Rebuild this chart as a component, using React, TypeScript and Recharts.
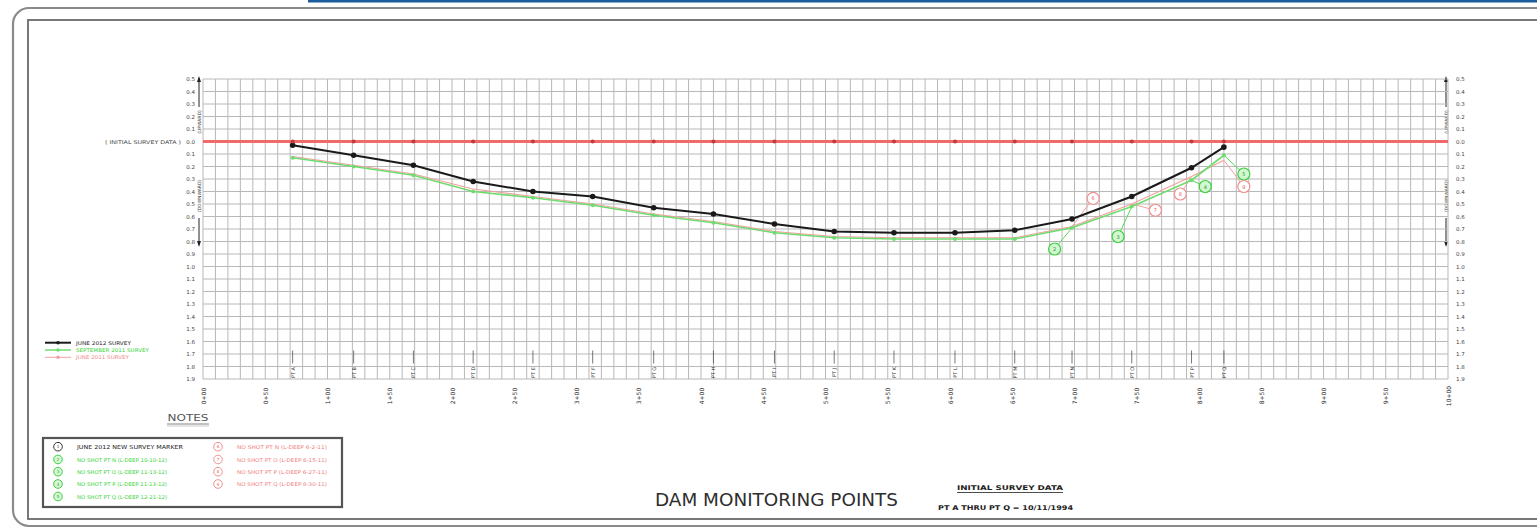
import React from 'react';
import { ComposedChart, Line, Scatter, XAxis, YAxis, CartesianGrid, ReferenceLine } from 'recharts';

// ---------- data ----------
const pointNames = ['PT A','PT B','PT C','PT D','PT E','PT F','PT G','PT H','PT I','PT J','PT K','PT L','PT M','PT N','PT O','PT P','PT Q'];
const pointStations = [72, 121, 169, 217, 265, 313, 362, 410, 459, 507, 555, 604, 652, 698, 746, 794, 820];
const initialSurvey = [0, 0, 0, 0, 0, 0, 0, 0, 0, 0, 0, 0, 0, 0, 0, 0, 0];
const june2012 = [0.03, 0.11, 0.19, 0.32, 0.40, 0.44, 0.53, 0.58, 0.66, 0.72, 0.73, 0.73, 0.71, 0.62, 0.44, 0.21, 0.045];
const sept2011 = [0.13, 0.20, 0.27, 0.40, 0.45, 0.51, 0.59, 0.65, 0.73, 0.77, 0.78, 0.78, 0.78, 0.69, 0.52, 0.31, 0.11];
const june2011 = [0.12, 0.19, 0.26, 0.38, 0.44, 0.50, 0.58, 0.64, 0.72, 0.76, 0.77, 0.77, 0.77, 0.68, 0.50, 0.28, 0.15];

const stationTicks = [0, 50, 100, 150, 200, 250, 300, 350, 400, 450, 500, 550, 600, 650, 700, 750, 800, 850, 900, 950, 1000];
const stationLabels = ['0+00','0+50','1+00','1+50','2+00','2+50','3+00','3+50','4+00','4+50','5+00','5+50','6+00','6+50','7+00','7+50','8+00','8+50','9+00','9+50','10+00'];
const yTicks = [-0.5, -0.4, -0.3, -0.2, -0.1, 0, 0.1, 0.2, 0.3, 0.4, 0.5, 0.6, 0.7, 0.8, 0.9, 1.0, 1.1, 1.2, 1.3, 1.4, 1.5, 1.6, 1.7, 1.8, 1.9];

// note markers on chart
const greenNoteIdx = [13, 14, 15, 16];
const greenNoteX = [684, 735, 805, 836];
const greenNoteY = [0.86, 0.76, 0.36, 0.26];
const greenNoteNum = ['2', '3', '4', '5'];
const pinkNoteIdx = [13, 14, 15, 16];
const pinkNoteX = [715, 765, 785, 836];
const pinkNoteY = [0.455, 0.55, 0.42, 0.36];
const pinkNoteNum = ['6', '7', '8', '9'];

// notes box texts
const blackNote = 'JUNE 2012  NEW SURVEY MARKER';
const greenNotes = ['NO SHOT PT N (L-DEEP 10-10-12)', 'NO SHOT PT O (L-DEEP 11-13-12)', 'NO SHOT PT P (L-DEEP 11-13-12)', 'NO SHOT PT Q (L-DEEP 12-21-12)'];
const pinkNotes = ['NO SHOT PT N (L-DEEP 6-2-11)', 'NO SHOT PT O (L-DEEP 6-15-11)', 'NO SHOT PT P (L-DEEP 6-27-11)', 'NO SHOT PT Q (L-DEEP 6-30-11)'];

const seriesNames = ['JUNE 2012 SURVEY', 'SEPTEMBER 2011 SURVEY', 'JUNE 2011 SURVEY'];

// ---------- derived tables ----------
const rows = pointStations.map((x, i) => ({
  x, name: pointNames[i], init: initialSurvey[i], j12: june2012[i], s11: sept2011[i], j11: june2011[i],
}));
const ptRows = pointStations.map((x, i) => ({ x, y: 1.8, name: pointNames[i] }));
const initRows = pointStations.map((x, i) => ({ x, y: initialSurvey[i] }));
const greenNotes2 = greenNoteX.map((x, i) => ({ x, y: greenNoteY[i], n: greenNoteNum[i] }));
const pinkNotes2 = pinkNoteX.map((x, i) => ({ x, y: pinkNoteY[i], n: pinkNoteNum[i] }));
const gridX: number[] = Array.from({ length: 101 }, (_, i) => i * 10);

const FONT = '"DejaVu Sans", "Liberation Sans", sans-serif';
const BLACK = '#1a1a1a';
const GREEN = '#6fdc6f';
const GREEN_TXT = '#36d436';
const PINK = '#f2a0a0';
const RED = '#f06a6a';

const LeftTick = (props: any) => {
  const { x, y, payload } = props;
  const v = payload.value as number;
  const lbl = Math.abs(v).toFixed(1);
  return (
    <g>
      {v === 0 && (
        <text x={x - 14} y={y} textAnchor="end" dominantBaseline="central" fontSize={5.2} fill="#444" fontFamily={FONT}
          textLength={76} lengthAdjust="spacingAndGlyphs">
          ( INITIAL SURVEY DATA )
        </text>
      )}
      <text x={x} y={y} textAnchor="end" dominantBaseline="central" fontSize={5.5} fill="#444" fontFamily={FONT}>{lbl}</text>
    </g>
  );
};

const RightTick = (props: any) => {
  const { x, y, payload } = props;
  const v = payload.value as number;
  return (
    <text x={x} y={y} textAnchor="start" dominantBaseline="central" fontSize={5.5} fill="#444" fontFamily={FONT}>
      {Math.abs(v).toFixed(1)}
    </text>
  );
};

const BottomTick = (props: any) => {
  const { x, y, payload } = props;
  const v = payload.value as number;
  const idx = stationTicks.indexOf(v);
  if (idx < 0) return <g />;
  const cy = y + 9;
  return (
    <text x={x} y={cy} transform={`rotate(-90 ${x} ${cy})`} textAnchor="middle" dominantBaseline="central" fontSize={6} fill="#222" fontFamily={FONT}>
      {stationLabels[idx]}
    </text>
  );
};

const PtShape = (props: any) => {
  const { cx, cy, payload } = props;
  return (
    <g>
      <line x1={cx} y1={cy - 16} x2={cx} y2={cy - 3} stroke="#555" strokeWidth={0.8} />
      <text x={cx} y={cy + 6} transform={`rotate(-90 ${cx} ${cy + 6})`} textAnchor="middle" dominantBaseline="central" fontSize={5} fill="#333" fontFamily={FONT}>
        {payload.name}
      </text>
    </g>
  );
};

const InitDot = (props: any) => {
  const { cx, cy } = props;
  return <circle cx={cx} cy={cy} r={2} fill="#c43a3a" />;
};

const GreenNote = (props: any) => {
  const { cx, cy, payload } = props;
  return (
    <g>
      <circle cx={cx} cy={cy} r={6} fill="#d2f7d2" stroke="#3fcf3f" strokeWidth={1.2} />
      <text x={cx} y={cy} textAnchor="middle" dominantBaseline="central" fontSize={5} fill="#22a022" fontFamily={FONT}>{payload.n}</text>
    </g>
  );
};

const PinkNote = (props: any) => {
  const { cx, cy, payload } = props;
  return (
    <g>
      <circle cx={cx} cy={cy} r={6} fill="#fff" stroke="#f09090" strokeWidth={1.2} />
      <text x={cx} y={cy} textAnchor="middle" dominantBaseline="central" fontSize={5} fill="#e06060" fontFamily={FONT}>{payload.n}</text>
    </g>
  );
};

const VArrowText = ({ x, y, text }: { x: number; y: number; text: string }) => (
  <text x={x} y={y} transform={`rotate(-90 ${x} ${y})`} textAnchor="middle" dominantBaseline="central" fontSize={4.5} fill="#333" fontFamily={FONT}>{text}</text>
);

const AxisDecor = ({ x }: { x: number }) => (
  <g>
    <line x1={x} y1={78} x2={x} y2={107} stroke="#222" strokeWidth={1} />
    <path d={`M${x - 2},${82} L${x},${76} L${x + 2},${82} Z`} fill="#222" />
    <VArrowText x={x + 0.5} y={122} text="(UPWARD)" />
    <VArrowText x={x + 0.5} y={196} text="(DOWNWARD)" />
    <line x1={x} y1={218} x2={x} y2={245} stroke="#222" strokeWidth={1} />
    <path d={`M${x - 2},${241} L${x},${247} L${x + 2},${241} Z`} fill="#222" />
  </g>
);

export default function App() {
  const legendRows = [
    { y: 342.7, color: BLACK, txt: BLACK, w: 55, sw: 2 },
    { y: 350, color: GREEN, txt: GREEN_TXT, w: 73, sw: 1.5 },
    { y: 357.3, color: PINK, txt: '#f08a8a', w: 53, sw: 1 },
  ];
  const noteRowsY = [446.7, 459.5, 471.7, 484, 496.5];
  return (
    <div style={{ position: 'absolute', left: 0, top: 0, width: 1537, height: 530, background: '#fff', overflow: 'hidden' }}>
      <svg width={1537} height={530} style={{ position: 'absolute', left: 0, top: 0 }}>
        {/* frame */}
        <rect x={308} y={0} width={1229} height={2.5} fill="#1d5c9c" />
        <rect x={13} y={8} width={1600} height={518} rx={16} ry={16} fill="none" stroke="#8a8a8a" strokeWidth={2.2} />
        <rect x={28} y={20} width={1600} height={499} fill="none" stroke="#6a6a6a" strokeWidth={1.8} />

        {/* axis decorations */}
        <AxisDecor x={199} />
        <AxisDecor x={1446} />

        {/* legend */}
        {legendRows.map((r, i) => (
          <g key={i}>
            <line x1={45} y1={r.y} x2={71} y2={r.y} stroke={r.color} strokeWidth={r.sw} />
            <circle cx={58} cy={r.y} r={1.8} fill={r.color} />
            <text x={76} y={r.y} dominantBaseline="central" fontSize={5.2} fill={r.txt} fontFamily={FONT} textLength={r.w} lengthAdjust="spacingAndGlyphs">{seriesNames[i]}</text>
          </g>
        ))}

        {/* notes */}
        <text x={188} y={421} textAnchor="middle" fontSize={8} fill="#555" fontFamily={FONT} textLength={41} lengthAdjust="spacingAndGlyphs">NOTES</text>
        <line x1={167} y1={424} x2={209} y2={424} stroke="#666" strokeWidth={0.8} />
        <line x1={167} y1={426} x2={209} y2={426} stroke="#aaa" strokeWidth={0.6} />
        <rect x={43} y={438} width={299} height={69} fill="none" stroke="#555" strokeWidth={2.2} />
        <circle cx={58} cy={noteRowsY[0]} r={4.3} fill="#fff" stroke="#333" strokeWidth={1} />
        <text x={58} y={noteRowsY[0]} textAnchor="middle" dominantBaseline="central" fontSize={4} fill="#333" fontFamily={FONT}>1</text>
        <text x={77} y={noteRowsY[0]} dominantBaseline="central" fontSize={5.5} fill="#222" fontFamily={FONT} textLength={106} lengthAdjust="spacingAndGlyphs">{blackNote}</text>
        {greenNotes.map((t, i) => (
          <g key={'g' + i}>
            <circle cx={58} cy={noteRowsY[i + 1]} r={4.3} fill="#d6f8d6" stroke="#3fcf3f" strokeWidth={1} />
            <text x={58} y={noteRowsY[i + 1]} textAnchor="middle" dominantBaseline="central" fontSize={4} fill="#22a022" fontFamily={FONT}>{greenNoteNum[i]}</text>
            <text x={77} y={noteRowsY[i + 1]} dominantBaseline="central" fontSize={5.2} fill={GREEN_TXT} fontFamily={FONT} textLength={90} lengthAdjust="spacingAndGlyphs">{t}</text>
          </g>
        ))}
        {pinkNotes.map((t, i) => (
          <g key={'p' + i}>
            <circle cx={218} cy={noteRowsY[i]} r={4.3} fill="#fff" stroke="#f09090" strokeWidth={1} />
            <text x={218} y={noteRowsY[i]} textAnchor="middle" dominantBaseline="central" fontSize={4} fill="#e06060" fontFamily={FONT}>{pinkNoteNum[i]}</text>
            <text x={237} y={noteRowsY[i]} dominantBaseline="central" fontSize={5.2} fill="#f07c7c" fontFamily={FONT} textLength={90} lengthAdjust="spacingAndGlyphs">{t}</text>
          </g>
        ))}

        {/* title block */}
        <text x={655} y={506} fontSize={17} fill="#2e2e2e" fontWeight={400} fontFamily={FONT} textLength={243} lengthAdjust="spacingAndGlyphs">DAM MONITORING POINTS</text>
        <text x={957} y={490} fontSize={6.5} fill="#222" fontWeight={700} fontFamily={FONT} textLength={106} lengthAdjust="spacingAndGlyphs">INITIAL SURVEY DATA</text>
        <line x1={957} y1={492.5} x2={1063} y2={492.5} stroke="#222" strokeWidth={0.8} />
        <text x={938} y={510} fontSize={6.5} fill="#222" fontWeight={700} fontFamily={FONT} textLength={135} lengthAdjust="spacingAndGlyphs">PT A THRU PT Q = 10/11/1994</text>
      </svg>

      <div style={{ position: 'absolute', left: 0, top: 0 }}>
        <ComposedChart width={1537} height={530} data={rows} margin={{ top: 79, right: 49, bottom: 121, left: 163 }}>
          <CartesianGrid stroke="#b8b8b8" strokeWidth={1} />
          <XAxis dataKey="x" type="number" domain={[0, 1000]} ticks={gridX} interval={0} allowDataOverflow
            axisLine={false} tickLine={false} height={30} tick={<BottomTick />} />
          <YAxis type="number" domain={[-0.5, 1.9]} reversed ticks={yTicks} interval={0} allowDataOverflow
            axisLine={false} tickLine={false} width={40} tickSize={0} tickMargin={8} tick={<LeftTick />} />
          <YAxis yAxisId="r" orientation="right" type="number" domain={[-0.5, 1.9]} reversed ticks={yTicks} interval={0} allowDataOverflow
            axisLine={false} tickLine={false} width={40} tickSize={0} tickMargin={8} tick={<RightTick />} />

          <ReferenceLine y={0} stroke={RED} strokeWidth={3} />

          {greenNoteIdx.map((pi, i) => (
            <ReferenceLine key={'gl' + i} ifOverflow="visible" stroke="#5bd85b" strokeWidth={1}
              segment={[{ x: pointStations[pi], y: sept2011[pi] }, { x: greenNoteX[i], y: greenNoteY[i] }]} />
          ))}
          {pinkNoteIdx.map((pi, i) => (
            <ReferenceLine key={'pl' + i} ifOverflow="visible" stroke="#f2a0a0" strokeWidth={1}
              segment={[{ x: pointStations[pi], y: june2011[pi] }, { x: pinkNoteX[i], y: pinkNoteY[i] }]} />
          ))}

          <Line dataKey="j11" stroke={PINK} strokeWidth={1.2} dot={false} isAnimationActive={false} />
          <Line dataKey="s11" stroke={GREEN} strokeWidth={1.6} dot={{ r: 1.2, fill: GREEN, stroke: GREEN }} isAnimationActive={false} />
          <Line dataKey="j12" stroke={BLACK} strokeWidth={2} dot={{ r: 1.8, fill: BLACK, stroke: BLACK }} isAnimationActive={false} />

          <Scatter data={initRows} dataKey="y" shape={<InitDot />} isAnimationActive={false} />
          <Scatter data={ptRows} dataKey="y" shape={<PtShape />} isAnimationActive={false} />
          <Scatter data={greenNotes2} dataKey="y" shape={<GreenNote />} isAnimationActive={false} />
          <Scatter data={pinkNotes2} dataKey="y" shape={<PinkNote />} isAnimationActive={false} />
        </ComposedChart>
      </div>
    </div>
  );
}
